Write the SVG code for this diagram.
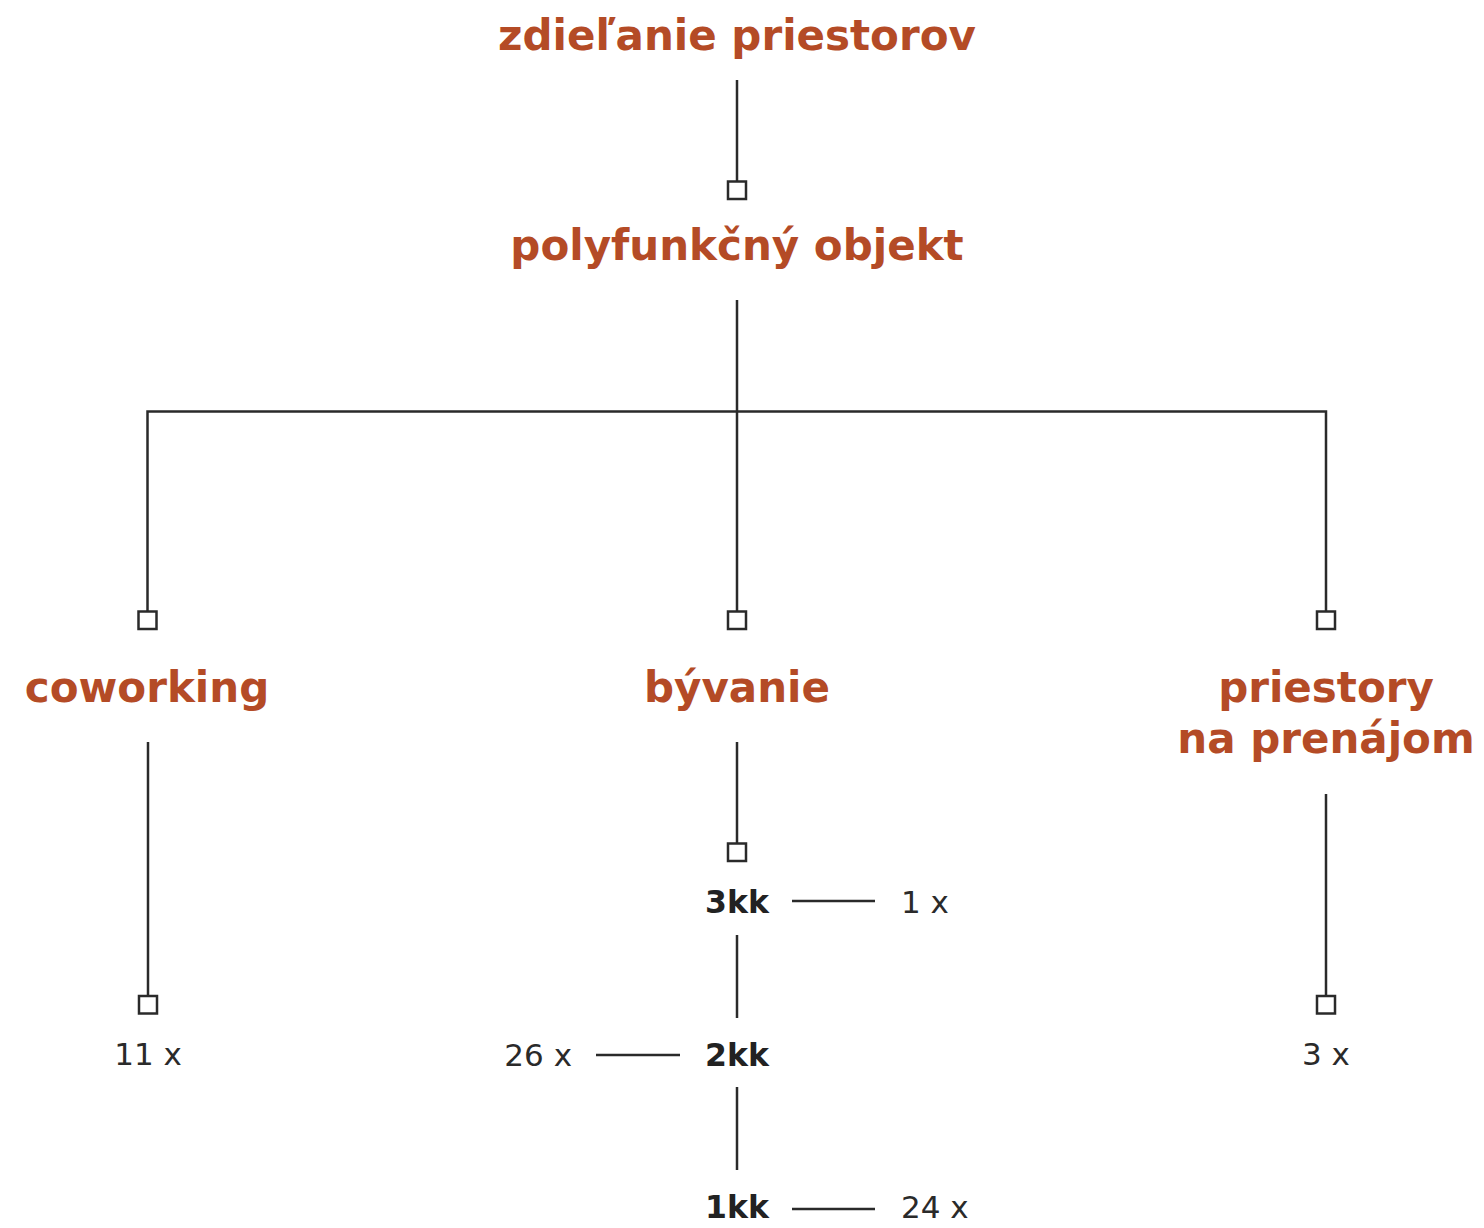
<svg xmlns="http://www.w3.org/2000/svg" width="1484" height="1228" viewBox="0 0 1484 1228">
<style>
.h{font-family:"DejaVu Sans","Liberation Sans",sans-serif;font-weight:bold;font-size:42px;fill:#B44B26;text-anchor:middle}
.k{font-family:"DejaVu Sans","Liberation Sans",sans-serif;font-weight:bold;font-size:31.5px;fill:#222;text-anchor:middle}
.n{font-family:"DejaVu Sans","Liberation Sans",sans-serif;font-size:31px;fill:#2a2a2a}
.c{stroke:#2a2a2a;stroke-width:2.5;fill:none}
.sq{stroke:#2a2a2a;stroke-width:2.5;fill:#fff}
</style>
<rect width="1484" height="1228" fill="#fff"/>
<g id="connectors">
<line class="c" x1="737" y1="80" x2="737" y2="182"/>
<line class="c" x1="737" y1="300" x2="737" y2="612"/>
<polyline class="c" points="147.5,612 147.5,411.5 1326,411.5 1326,612"/>
<line class="c" x1="148" y1="742" x2="148" y2="996"/>
<line class="c" x1="737" y1="742" x2="737" y2="844"/>
<line class="c" x1="1326" y1="794" x2="1326" y2="996"/>
<line class="c" x1="737" y1="935" x2="737" y2="1018"/>
<line class="c" x1="737" y1="1087" x2="737" y2="1170"/>
<line class="c" x1="792" y1="901" x2="875" y2="901"/>
<line class="c" x1="596" y1="1055" x2="680" y2="1055"/>
<line class="c" x1="792" y1="1209" x2="875" y2="1209"/>
<rect class="sq" x="728" y="181.5" width="18" height="17.5"/>
<rect class="sq" x="138.5" y="611.5" width="18" height="17.5"/>
<rect class="sq" x="728" y="611.5" width="18" height="17.5"/>
<rect class="sq" x="1317" y="611.5" width="18" height="17.5"/>
<rect class="sq" x="139" y="996" width="18" height="17.5"/>
<rect class="sq" x="728" y="843.5" width="18" height="17.5"/>
<rect class="sq" x="1317" y="996" width="18" height="17.5"/>
</g>
<g id="zdielanie"><text class="h" x="737" y="50">zdieľanie priestorov</text></g>
<g id="polyfunkcny"><text class="h" x="737" y="260">polyfunkčný objekt</text></g>
<g id="coworking"><text class="h" x="147" y="702">coworking</text></g>
<g id="byvanie"><text class="h" x="737" y="702">bývanie</text></g>
<g id="priestory"><text class="h" x="1326" y="702">priestory</text><text class="h" x="1326" y="753">na prenájom</text></g>
<g id="cow-count"><text class="n" x="148" y="1065" text-anchor="middle">11 x</text></g>
<g id="k3"><text class="k" x="737" y="913">3kk</text></g>
<g id="k3-count"><text class="n" x="901" y="913">1 x</text></g>
<g id="k2"><text class="k" x="737" y="1066">2kk</text></g>
<g id="k2-count"><text class="n" x="572" y="1066" text-anchor="end">26 x</text></g>
<g id="k1"><text class="k" x="737" y="1218">1kk</text></g>
<g id="k1-count"><text class="n" x="901" y="1218">24 x</text></g>
<g id="pr-count"><text class="n" x="1326" y="1065" text-anchor="middle">3 x</text></g>
</svg>
